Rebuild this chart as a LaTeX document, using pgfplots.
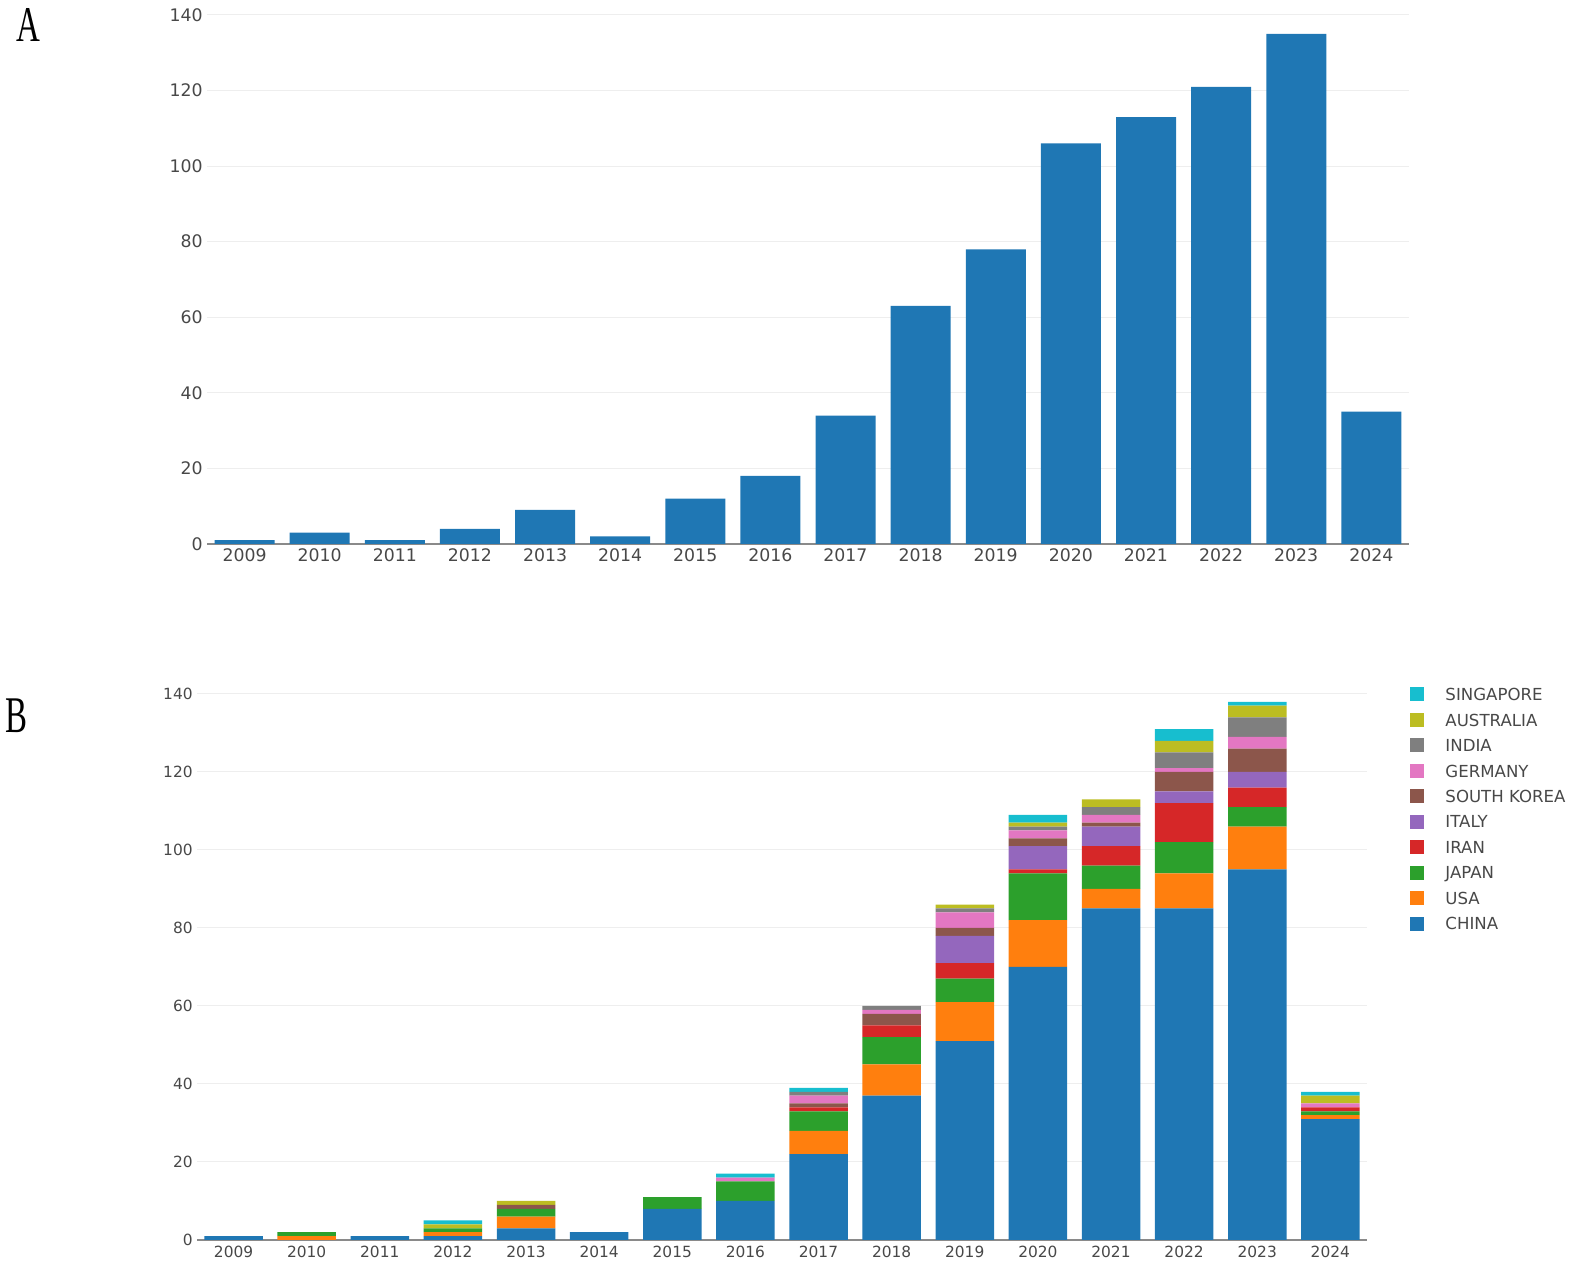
\documentclass[border=0pt]{standalone}
\usepackage{graphicx}
\usepackage{pgfplots}
\pgfplotsset{compat=1.18}
\usepackage{pgfplotstable}
\usepackage{fontspec}
\setmainfont{DejaVu Sans}
\newfontfamily\letterfont{Liberation Serif}

\definecolor{cChina}{HTML}{1F77B4}
\definecolor{cUSA}{HTML}{FF7F0E}
\definecolor{cJapan}{HTML}{2CA02C}
\definecolor{cIran}{HTML}{D62728}
\definecolor{cItaly}{HTML}{9467BD}
\definecolor{cKorea}{HTML}{8C564B}
\definecolor{cGermany}{HTML}{E377C2}
\definecolor{cIndia}{HTML}{7F7F7F}
\definecolor{cAustralia}{HTML}{BCBD22}
\definecolor{cSingapore}{HTML}{17BECF}
\definecolor{tickc}{HTML}{484848}
\definecolor{axc}{HTML}{8A8A8A}
\definecolor{gridc}{HTML}{EEEEEE}

\pgfplotstableread{
year n
2009 1
2010 3
2011 1
2012 4
2013 9
2014 2
2015 12
2016 18
2017 34
2018 63
2019 78
2020 106
2021 113
2022 121
2023 135
2024 35
}\totals

\pgfplotstableread{
year china usa japan iran italy skorea germany india australia singapore
2009 1 0 0 0 0 0 0 0 0 0
2010 0 1 1 0 0 0 0 0 0 0
2011 1 0 0 0 0 0 0 0 0 0
2012 1 1 1 0 0 0 0 0 1 1
2013 3 3 2 0 0 1 0 0 1 0
2014 2 0 0 0 0 0 0 0 0 0
2015 8 0 3 0 0 0 0 0 0 0
2016 10 0 5 0 0 0 1 0 0 1
2017 22 6 5 1 0 1 2 1 0 1
2018 37 8 7 3 0 3 1 1 0 0
2019 51 10 6 4 7 2 4 1 1 0
2020 70 12 12 1 6 2 2 1 1 2
2021 85 5 6 5 5 1 2 2 2 0
2022 85 9 8 10 3 5 1 4 3 3
2023 95 11 5 5 4 6 3 5 3 1
2024 31 1 1 1 0 0 1 0 2 1
}\countries

\pgfplotsset{
  sq/.style={legend image code/.code={\fill[##1] (0pt,-3.5pt) rectangle (7pt,3.5pt);}},
  myaxis/.style={
    scale only axis, anchor=south west,
    xmin=2008.5, xmax=2024.5, ymin=0, ymax=140,
    xtick={2009,...,2024}, ytick={0,20,...,140},
    major tick length=0pt,
    axis x line*=bottom, axis y line*=left,
    y axis line style={draw=none},
    x axis line style={draw=axc, line width=0.7pt},
    ymajorgrids, grid style={draw=gridc, line width=0.5pt},
    tick label style={text=tickc},
    /pgf/number format/assume math mode=true,
    /pgf/number format/1000 sep={},
    xticklabel style={anchor=north, inner sep=0pt},
    yticklabel style={anchor=east, inner sep=0pt, xshift=-2pt},
  }
}

\begin{document}
\begin{tikzpicture}
\useasboundingbox (0,0) rectangle (787.5pt,637pt);

\node[anchor=base west, inner sep=0pt] at (8pt,616.2pt) {\scalebox{0.66}[1]{\letterfont\fontsize{25}{25}\selectfont A}};
\node[anchor=base west, inner sep=0pt] at (2.5pt,270.6pt) {\scalebox{0.64}[1]{\letterfont\fontsize{25.7}{26}\selectfont B}};

\begin{axis}[myaxis, at={(103.5pt,365pt)}, width=601pt, height=264.5pt,
  ybar, bar width=0.8,
  tick label style={font=\fontsize{8.65}{10}\selectfont},
  xticklabel style={yshift=-2pt}]
\addplot[fill=cChina, draw=none] table[x=year,y=n]{\totals};
\end{axis}

\begin{axis}[myaxis, at={(98.5pt,17pt)}, width=585pt, height=273pt,
  ybar stacked, bar width=0.8,
  tick label style={font=\fontsize{7.7}{9}\selectfont},
  xticklabel style={yshift=-3pt},
  reverse legend, legend cell align=left,
  legend style={at={(1.0368,1.0128)}, anchor=north west, draw=none, fill=none,
    inner sep=0pt, row sep=5.74pt, column sep=10.5pt,
    font=\fontsize{8.3}{9}\selectfont,
    nodes={inner sep=0pt, text depth=0pt, text=tickc}}]
\addplot[fill=cChina, draw=none, sq] table[x=year,y=china]{\countries};
\addplot[fill=cUSA, draw=none, sq] table[x=year,y=usa]{\countries};
\addplot[fill=cJapan, draw=none, sq] table[x=year,y=japan]{\countries};
\addplot[fill=cIran, draw=none, sq] table[x=year,y=iran]{\countries};
\addplot[fill=cItaly, draw=none, sq] table[x=year,y=italy]{\countries};
\addplot[fill=cKorea, draw=none, sq] table[x=year,y=skorea]{\countries};
\addplot[fill=cGermany, draw=none, sq] table[x=year,y=germany]{\countries};
\addplot[fill=cIndia, draw=none, sq] table[x=year,y=india]{\countries};
\addplot[fill=cAustralia, draw=none, sq] table[x=year,y=australia]{\countries};
\addplot[fill=cSingapore, draw=none, sq] table[x=year,y=singapore]{\countries};
\legend{CHINA,USA,JAPAN,IRAN,ITALY,SOUTH KOREA,GERMANY,INDIA,AUSTRALIA,SINGAPORE}
\end{axis}
\end{tikzpicture}
\end{document}
